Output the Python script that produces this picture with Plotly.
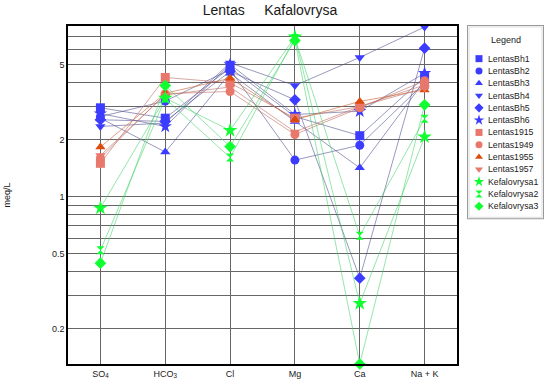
import math
import plotly.graph_objects as go

categories = ["SO<sub>4</sub>", "HCO<sub>3</sub>", "Cl", "Mg", "Ca", "Na + K"]

series_names = ["LentasBh1", "LentasBh2", "LentasBh3", "LentasBh4", "LentasBh5", "LentasBh6",
                "Lentas1915", "Lentas1949", "Lentas1955", "Lentas1957",
                "Kefalovrysa1", "Kefalovrysa2", "Kefalovrysa3"]

lentas_bh1 = [2.95, 2.6, 4.8, 2.65, 2.1, 4.3]
lentas_bh2 = [2.65, 3.2, 4.7, 1.56, 1.87, 4.0]
lentas_bh3 = [2.6, 1.72, 4.5, 2.5, 1.42, 4.1]
lentas_bh4 = [2.35, 2.45, 5.1, 3.87, 5.45, 7.9]
lentas_bh5 = [2.55, 2.5, 4.6, 3.25, 0.37, 6.1]
lentas_bh6 = [2.75, 2.35, 5.0, 2.72, 2.83, 4.5]
lentas_1915 = [1.5, 4.27, 4.0, 2.6, 3.0, 3.9]
lentas_1949 = [1.6, 3.5, 3.6, 2.13, 2.95, 4.1]
lentas_1955 = [1.83, 3.52, 4.23, 2.55, 3.19, 3.67]
lentas_1957 = [1.65, 3.45, 3.8, 2.2, 3.0, 3.75]
kefalovrysa1 = [0.87, 3.32, 2.24, 7.0, 0.272, 2.07]
kefalovrysa2 = [0.52, 3.3, 1.61, 6.9, 0.62, 2.58]
kefalovrysa3 = [0.444, 3.87, 1.84, 6.7, 0.13, 3.06]

series_values = [lentas_bh1, lentas_bh2, lentas_bh3, lentas_bh4, lentas_bh5, lentas_bh6,
                 lentas_1915, lentas_1949, lentas_1955, lentas_1957,
                 kefalovrysa1, kefalovrysa2, kefalovrysa3]

y_tick_vals = [0.2, 0.5, 1, 2, 5]
y_tick_text = ["0.2", "0.5", "1", "2", "5"]
y_minor_grid_vals = [0.3, 0.4, 0.6, 0.7, 0.8, 0.9, 3, 4, 6, 7]

# styles
BLUE = "#3c3cff"
SALMON = "#e8786c"
ORANGE = "#dc4a0c"
GREEN = "#10ff30"
BLUE_LINE = "rgba(70,70,140,0.55)"
SALMON_LINE = "rgba(190,110,100,0.6)"
ORANGE_LINE = "rgba(200,100,50,0.6)"
GREEN_LINE = "rgba(60,210,100,0.55)"

symbols = ["square", "circle", "triangle-up", "triangle-down", "diamond", "star",
           "square", "circle", "triangle-up", "triangle-down", "star", "hourglass", "diamond"]
colors = [BLUE] * 6 + [SALMON, SALMON, ORANGE, SALMON] + [GREEN] * 3
line_colors = [BLUE_LINE] * 6 + [SALMON_LINE, SALMON_LINE, ORANGE_LINE, SALMON_LINE] + [GREEN_LINE] * 3
sizes = [9, 9, 9, 9, 9, 10, 9, 9, 9, 9, 11, 8, 9]

FONT = "Liberation Sans, Arial, sans-serif"
GRID = "#666666"
TXT = "#1a1a1a"

fig = go.Figure()

# lines first
for name, vals, lc in zip(series_names, series_values, line_colors):
    fig.add_trace(go.Scatter(x=categories, y=vals, mode="lines", name=name,
                             line=dict(color=lc, width=1), showlegend=False,
                             hoverinfo="skip"))
# markers on top
for name, vals, sym, c, s in zip(series_names, series_values, symbols, colors, sizes):
    fig.add_trace(go.Scatter(x=categories, y=vals, mode="markers", name=name,
                             marker=dict(symbol=sym, color=c, size=s, line=dict(width=0)),
                             showlegend=False, cliponaxis=False))

# manual legend on its own hidden axes
n = len(series_names)
legend_idx = list(range(n))
for i, (name, sym, c) in enumerate(zip(series_names, symbols, colors)):
    fig.add_trace(go.Scatter(x=[12], y=[legend_idx[i]], mode="markers",
                             marker=dict(symbol=sym, color=c, size=8 if sym == "star" else 7,
                                         line=dict(width=0)),
                             xaxis="x2", yaxis="y2", showlegend=False, hoverinfo="skip",
                             cliponaxis=False))
    fig.add_annotation(x=19, y=legend_idx[i], xref="x2", yref="y2", text=name,
                       showarrow=False, xanchor="left", yanchor="middle",
                       font=dict(family=FONT, size=8.7, color=TXT))

fig.add_annotation(x=38.5, y=-1.5, xref="x2", yref="y2", text="Legend", showarrow=False,
                   xanchor="center", yanchor="middle", font=dict(family=FONT, size=9, color=TXT))

fig.add_shape(type="rect", xref="x2", yref="y2", x0=0, x1=77, y0=-2.74, y1=13.06,
              line=dict(color="#9a9a9a", width=2), fillcolor="white", layer="below")
fig.add_shape(type="rect", xref="x2", yref="y2", x0=2, x1=75, y0=-2.58, y1=12.9,
              line=dict(color="#dcdcdc", width=1), fillcolor="rgba(0,0,0,0)", layer="below")

W, H = 550, 385
ml, mr, mt, mb = 68, 6, 20, 18
pw = W - ml - mr
ph = H - mt - mb
main_x1 = (457 - ml) / pw
main_y1 = (H - mb - 26) / ph
leg_x0 = (467 - ml) / pw
leg_y0 = (H - mb - 221) / ph
leg_y1 = (H - mb - 25) / ph

fig.update_layout(
    width=W, height=H,
    margin=dict(l=ml, r=mr, t=mt, b=mb, pad=0),
    paper_bgcolor="white", plot_bgcolor="white",
    font=dict(family=FONT, size=9, color=TXT),
    xaxis=dict(domain=[0, main_x1], type="category", categoryorder="array",
               categoryarray=categories, range=[-0.5, 5.5],
               showgrid=True, gridcolor=GRID, gridwidth=1,
               showline=True, linecolor="black", linewidth=1.5, mirror=True,
               ticks="", tickfont=dict(family=FONT, size=9, color=TXT), zeroline=False),
    yaxis=dict(domain=[0, main_y1], type="log",
               range=[math.log10(0.13), math.log10(8)],
               tickmode="array", tickvals=y_tick_vals, ticktext=y_tick_text,
               showgrid=True, gridcolor=GRID, gridwidth=1,
               minor=dict(tickmode="array", tickvals=y_minor_grid_vals, showgrid=True,
                          gridcolor=GRID, gridwidth=1, ticks=""),
               showline=True, linecolor="black", linewidth=1.5, mirror=True,
               ticks="", tickfont=dict(family=FONT, size=9, color=TXT), zeroline=False),
    xaxis2=dict(domain=[leg_x0, 1], range=[0, 77], visible=False, fixedrange=True),
    yaxis2=dict(domain=[leg_y0, leg_y1], range=[13.06, -2.74], visible=False, fixedrange=True),
    showlegend=False,
    title=dict(text="Lentas\u00a0\u00a0\u00a0\u00a0\u00a0Kafalovrysa", xref="container", yref="container",
               x=270 / W, y=1 - 10 / H, xanchor="center", yanchor="middle",
               font=dict(family=FONT, size=14, color=TXT)),
)

fig.add_annotation(text="meq/L", xref="paper", yref="paper", x=(7 - ml) / pw,
                   y=(H - mb - 197) / ph, textangle=-90, showarrow=False,
                   xanchor="center", yanchor="middle", font=dict(family=FONT, size=9, color=TXT))

fig.write_html("out.html", config={"displayModeBar": False},
               post_script="document.body.style.margin='0';document.body.style.overflow='hidden';")
